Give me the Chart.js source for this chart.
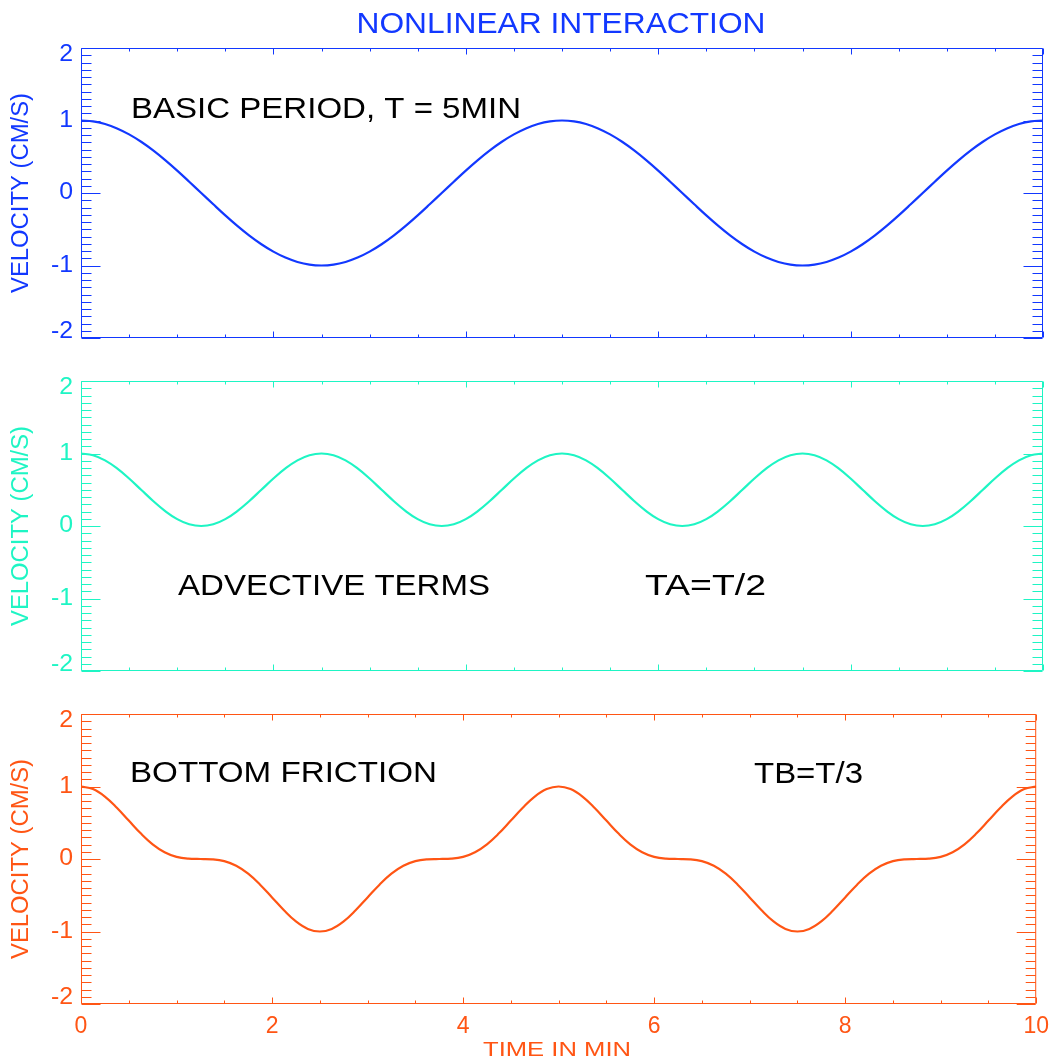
<!DOCTYPE html>
<html>
<head>
<meta charset="utf-8">
<script src="https://cdn.jsdelivr.net/npm/chart.js"></script>
<style>
  html, body { margin: 0; padding: 0; background: #fff; }
  #wrap { position: relative; width: 1058px; height: 1061px; }
  #wrap canvas { position: absolute; left: 0; top: 0; }
</style>
</head>
<body>
<div id="wrap">
  <canvas id="basic" width="1058" height="1061"></canvas>
  <canvas id="advective" width="1058" height="1061"></canvas>
  <canvas id="friction" width="1058" height="1061"></canvas>
</div>
<script>
// time axis (minutes), sampled every eighth of a minute
const times = [
  0, 0.125, 0.25, 0.375, 0.5, 0.625, 0.75, 0.875, 1, 1.125,
  1.25, 1.375, 1.5, 1.625, 1.75, 1.875, 2, 2.125, 2.25, 2.375,
  2.5, 2.625, 2.75, 2.875, 3, 3.125, 3.25, 3.375, 3.5, 3.625,
  3.75, 3.875, 4, 4.125, 4.25, 4.375, 4.5, 4.625, 4.75, 4.875,
  5, 5.125, 5.25, 5.375, 5.5, 5.625, 5.75, 5.875, 6, 6.125,
  6.25, 6.375, 6.5, 6.625, 6.75, 6.875, 7, 7.125, 7.25, 7.375,
  7.5, 7.625, 7.75, 7.875, 8, 8.125, 8.25, 8.375, 8.5, 8.625,
  8.75, 8.875, 9, 9.125, 9.25, 9.375, 9.5, 9.625, 9.75, 9.875, 10
];

// velocity (cm/s)
const basicPeriod = [
  1, 0.988, 0.951, 0.891, 0.809, 0.707, 0.588, 0.454, 0.309, 0.156,
  0, -0.156, -0.309, -0.454, -0.588, -0.707, -0.809, -0.891, -0.951, -0.988,
  -1, -0.988, -0.951, -0.891, -0.809, -0.707, -0.588, -0.454, -0.309, -0.156,
  0, 0.156, 0.309, 0.454, 0.588, 0.707, 0.809, 0.891, 0.951, 0.988,
  1, 0.988, 0.951, 0.891, 0.809, 0.707, 0.588, 0.454, 0.309, 0.156,
  0, -0.156, -0.309, -0.454, -0.588, -0.707, -0.809, -0.891, -0.951, -0.988,
  -1, -0.988, -0.951, -0.891, -0.809, -0.707, -0.588, -0.454, -0.309, -0.156,
  0, 0.156, 0.309, 0.454, 0.588, 0.707, 0.809, 0.891, 0.951, 0.988, 1
];
const advectiveTerms = [
  1, 0.976, 0.905, 0.794, 0.655, 0.5, 0.345, 0.206, 0.095, 0.024,
  0, 0.024, 0.095, 0.206, 0.345, 0.5, 0.655, 0.794, 0.905, 0.976,
  1, 0.976, 0.905, 0.794, 0.655, 0.5, 0.345, 0.206, 0.095, 0.024,
  0, 0.024, 0.095, 0.206, 0.345, 0.5, 0.655, 0.794, 0.905, 0.976,
  1, 0.976, 0.905, 0.794, 0.655, 0.5, 0.345, 0.206, 0.095, 0.024,
  0, 0.024, 0.095, 0.206, 0.345, 0.5, 0.655, 0.794, 0.905, 0.976,
  1, 0.976, 0.905, 0.794, 0.655, 0.5, 0.345, 0.206, 0.095, 0.024,
  0, 0.024, 0.095, 0.206, 0.345, 0.5, 0.655, 0.794, 0.905, 0.976, 1
];
const bottomFriction = [
  1, 0.964, 0.861, 0.707, 0.53, 0.354, 0.203, 0.094, 0.03, 0.004,
  0, -0.004, -0.03, -0.094, -0.203, -0.354, -0.53, -0.707, -0.861, -0.964,
  -1, -0.964, -0.861, -0.707, -0.53, -0.354, -0.203, -0.094, -0.03, -0.004,
  0, 0.004, 0.03, 0.094, 0.203, 0.354, 0.53, 0.707, 0.861, 0.964,
  1, 0.964, 0.861, 0.707, 0.53, 0.354, 0.203, 0.094, 0.03, 0.004,
  0, -0.004, -0.03, -0.094, -0.203, -0.354, -0.53, -0.707, -0.861, -0.964,
  -1, -0.964, -0.861, -0.707, -0.53, -0.354, -0.203, -0.094, -0.03, -0.004,
  0, 0.004, 0.03, 0.094, 0.203, 0.354, 0.53, 0.707, 0.861, 0.964, 1
];

const xTickValues = [0, 2, 4, 6, 8, 10];
const yTickValues = [-2, -1, 0, 1, 2];

const FONT = '"Liberation Sans", Arial, Helvetica, sans-serif';
const W = 1058, H = 1061;

// draw text squeezed/stretched to a target width (the original glyphs are wide)
function fitText(ctx, text, x, y, size, width, align) {
  ctx.font = size + 'px ' + FONT;
  const sx = width / ctx.measureText(text).width;
  ctx.save();
  ctx.translate(x, y);
  ctx.scale(sx, 1);
  ctx.textAlign = align || 'left';
  ctx.textBaseline = 'middle';
  ctx.fillText(text, 0, 0);
  ctx.restore();
}

// IDL style box with inward major/minor ticks on all four sides
const idlFrame = {
  id: 'idlFrame',
  afterDatasetsDraw(chart, args, opts) {
    const { ctx, chartArea: a, scales: { x, y } } = chart;
    ctx.save();
    ctx.strokeStyle = opts.color;
    ctx.lineWidth = 1;
    ctx.beginPath();
    const L = a.left + 0.5, R = a.right - 0.5, T = a.top + 0.5, B = a.bottom - 0.5;
    ctx.rect(L, T, R - L, B - T);
    // y ticks: major each 1, minor each 0.1
    for (let i = -20; i <= 20; i++) {
      const py = Math.round(y.getPixelForValue(i / 10)) + 0.5;
      const len = i % 10 === 0 ? 19 : 10;
      ctx.moveTo(L, py); ctx.lineTo(L + len, py);
      ctx.moveTo(R, py); ctx.lineTo(R - len, py);
    }
    // x ticks: major each 2, minor each 0.5
    for (let i = 0; i <= 20; i++) {
      const px = Math.round(x.getPixelForValue(i / 2)) + 0.5;
      const len = i % 4 === 0 ? 6 : 3;
      ctx.moveTo(px, B); ctx.lineTo(px, B - len);
      ctx.moveTo(px, T); ctx.lineTo(px, T + len);
    }
    ctx.stroke();

    ctx.fillStyle = opts.color;
    // y tick labels, end labels nudged inside the box like the original
    y.ticks.forEach((t, i) => {
      let py = y.getPixelForValue(t.value);
      if (i === 0) py -= 6;
      if (i === y.ticks.length - 1) py += 7;
      ctx.font = '23px ' + FONT;
      const w = ctx.measureText(String(t.value)).width * 1.08;
      fitText(ctx, String(t.value), 73, py, 23, w, 'right');
    });

    // y axis title
    ctx.save();
    ctx.translate(22, (a.top + a.bottom) / 2);
    ctx.rotate(-Math.PI / 2);
    fitText(ctx, 'VELOCITY (CM/S)', 0, 0, 23, 200, 'center');
    ctx.restore();

    (opts.notes || []).forEach(n => {
      ctx.fillStyle = n.color || '#000';
      fitText(ctx, n.text, n.x, n.y, n.size, n.width, n.align);
    });
    ctx.restore();
  }
};

const panels = [
  { id: 'basic', values: basicPeriod, color: '#1238ff', top: 48, bottom: 338, showX: false,
    notes: [
      { text: 'NONLINEAR INTERACTION', x: 561, y: 25, size: 29, width: 409, align: 'center', color: '#1238ff' },
      { text: 'BASIC PERIOD, T = 5MIN', x: 131, y: 110, size: 29, width: 390 }
    ] },
  { id: 'advective', values: advectiveTerms, color: '#1ef5c4', top: 381, bottom: 671, showX: false,
    notes: [
      { text: 'ADVECTIVE TERMS', x: 178, y: 587, size: 29, width: 312 },
      { text: 'TA=T/2', x: 645, y: 587, size: 29, width: 121 }
    ] },
  { id: 'friction', values: bottomFriction, color: '#ff5514', top: 714, bottom: 1004, showX: true,
    notes: [
      { text: 'BOTTOM FRICTION', x: 130, y: 774, size: 29, width: 307 },
      { text: 'TB=T/3', x: 754, y: 775, size: 29, width: 109 },
      { text: 'TIME IN MIN', x: 557, y: 1050, size: 21, width: 148, align: 'center', color: '#ff5514' }
    ] }
];

panels.forEach(p => {
  const xAxisHeight = p.showX ? H - p.bottom : 0;
  new Chart(document.getElementById(p.id), {
    type: 'line',
    data: {
      datasets: [{
        data: times.map((t, i) => ({ x: t, y: p.values[i] })),
        borderColor: p.color,
        borderWidth: 2.2,
        pointRadius: 0,
        fill: false,
        tension: 0.4
      }]
    },
    options: {
      responsive: false,
      animation: false,
      events: [],
      layout: { padding: { left: 0, right: W - 1043, top: p.top, bottom: H - p.bottom - xAxisHeight } },
      plugins: {
        legend: { display: false },
        tooltip: { enabled: false },
        idlFrame: { color: p.color, notes: p.notes }
      },
      scales: {
        x: {
          type: 'linear', min: 0, max: 10,
          afterBuildTicks: s => { s.ticks = xTickValues.map(v => ({ value: v })); },
          afterFit: s => { s.height = xAxisHeight; },
          grid: { display: false, drawTicks: false },
          border: { display: false },
          ticks: { display: p.showX, color: p.color, padding: 9, font: { size: 23, family: FONT } }
        },
        y: {
          type: 'linear', min: -2, max: 2,
          afterBuildTicks: s => { s.ticks = yTickValues.map(v => ({ value: v })); },
          afterFit: s => { s.width = 81; },
          grid: { display: false, drawTicks: false },
          border: { display: false },
          ticks: { display: false }
        }
      }
    },
    plugins: [idlFrame]
  });
});
</script>
</body>
</html>
